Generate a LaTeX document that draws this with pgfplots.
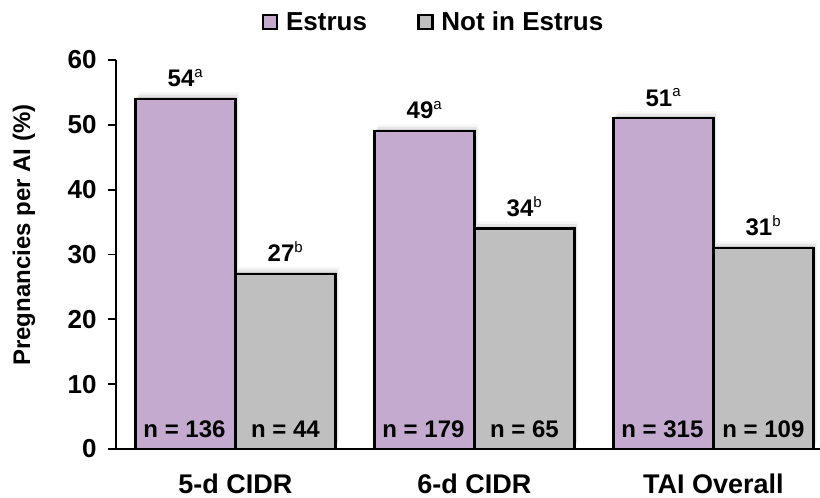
\documentclass[border=0pt]{standalone}
\usepackage{pgfplots}
\pgfplotsset{compat=1.18}
\usepackage{fontspec}
\setmainfont{Liberation Sans}
\usetikzlibrary{calc,shadows}
\definecolor{estrus}{HTML}{C4AACF}
\definecolor{notestrus}{HTML}{BFBFBF}
\tikzset{
  barshadow/.style={
    drop shadow={shadow xshift=1pt, shadow yshift=2pt, opacity=0.28},
    drop shadow={shadow xshift=2.5pt, shadow yshift=4.5pt, opacity=0.14},
    drop shadow={shadow xshift=4pt, shadow yshift=7pt, opacity=0.07}}
}
\newcommand{\sups}[1]{\textsuperscript{\mdseries\fontsize{15}{15}\selectfont #1}}
\begin{document}
\begin{tikzpicture}
\begin{axis}[
    scale only axis,
    width=704pt, height=389pt,
    xmin=-0.5, xmax=2.446,
    ymin=0, ymax=60,
    ybar=0pt, bar width=100pt,
    axis lines=left,
    axis line style={-, line width=1.8pt},
    xtick=data,
    xticklabels={5-d CIDR, 6-d CIDR, TAI Overall},
    xtick style={draw=none},
    ytick={0,10,...,60},
    ytick style={line width=1.8pt, black},
    tick align=outside,
    major tick length=8pt,
    /pgf/number format/assume math mode=true,
    yticklabel style={font=\fontsize{26}{28}\selectfont\bfseries, xshift=-8pt},
    xticklabel style={font=\fontsize{27}{30}\selectfont\bfseries, yshift=-13pt},
    every axis y label/.style={at={(rel axis cs:0,0.55)}, rotate=90,
        anchor=center, yshift=92pt, font=\fontsize{24}{28}\selectfont\bfseries},
    ylabel={Pregnancies per AI (\%)},
    every node near coord/.append style={font=\fontsize{24}{28}\selectfont\bfseries,
        black, inner sep=0pt, yshift=11pt},
    legend columns=2,
    legend style={at={(0.451,1.098)}, anchor=center, draw=none, fill=none,
        font=\fontsize{26}{28}\selectfont\bfseries,
        /tikz/every even column/.append style={column sep=48pt}},
    legend image code/.code={
        \draw[#1, line width=2.6pt] (0pt,-7pt) rectangle (14pt,7pt);
        \path (20pt,0pt);},
]
% soft shadows behind the bars
\addplot[forget plot, draw=none, fill=none, bar shift=-50pt, barshadow]
    coordinates {(0,54) (1,49) (2,51)};
\addplot[forget plot, draw=none, fill=none, bar shift=50pt, barshadow]
    coordinates {(0,27) (1,34) (2,31)};
% Estrus
\addplot[fill=estrus, draw=black, line width=2.2pt, bar shift=-50pt,
    nodes near coords, point meta=explicit symbolic]
    coordinates {
    (0,54) [54\sups{a}]
    (1,49) [49\sups{a}]
    (2,51) [51\sups{a}]
};
\addlegendentry{Estrus}
% Not in Estrus
\addplot[fill=notestrus, draw=black, line width=2.2pt, bar shift=50pt,
    nodes near coords, point meta=explicit symbolic]
    coordinates {
    (0,27) [27\sups{b}]
    (1,34) [34\sups{b}]
    (2,31) [31\sups{b}]
};
\addlegendentry{Not in Estrus}

% sample sizes
\begin{scope}[every node/.style={anchor=base, font=\fontsize{24}{28}\selectfont\bfseries, inner sep=0pt, yshift=11pt}]
\node[xshift=-51pt] at (axis cs:0,0) {n = 136};
\node[xshift=50pt]  at (axis cs:0,0) {n = 44};
\node[xshift=-51pt] at (axis cs:1,0) {n = 179};
\node[xshift=50pt]  at (axis cs:1,0) {n = 65};
\node[xshift=-51pt] at (axis cs:2,0) {n = 315};
\node[xshift=50pt]  at (axis cs:2,0) {n = 109};
\end{scope}
\coordinate (o) at (rel axis cs:0,0);
\end{axis}
\pgfresetboundingbox
\path[use as bounding box] ($(o)+(-116pt,-49pt)$) rectangle ++(820pt,498pt);
\end{tikzpicture}
\end{document}
